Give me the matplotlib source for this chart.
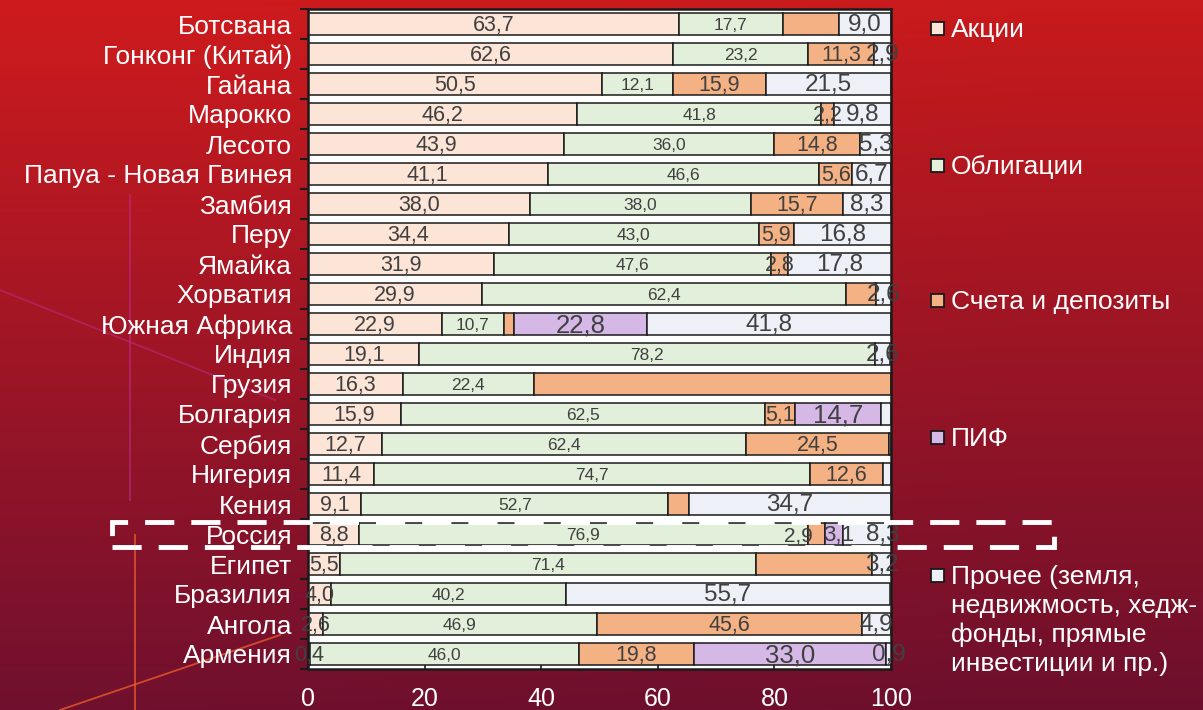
import numpy as np
import matplotlib
matplotlib.use("Agg")
import matplotlib.pyplot as plt
from matplotlib.patches import Rectangle
from matplotlib.lines import Line2D

plt.rcParams['font.family'] = ['Liberation Sans', 'DejaVu Sans']

countries = ["Ботсвана", "Гонконг (Китай)", "Гайана", "Марокко", "Лесото",
             "Папуа - Новая Гвинея", "Замбия", "Перу", "Ямайка", "Хорватия",
             "Южная Африка", "Индия", "Грузия", "Болгария", "Сербия", "Нигерия",
             "Кения", "Россия", "Египет", "Бразилия", "Ангола", "Армения"]

stocks   = [63.7, 62.6, 50.5, 46.2, 43.9, 41.1, 38.0, 34.4, 31.9, 29.9, 22.9,
            19.1, 16.3, 15.9, 12.7, 11.4, 9.1, 8.8, 5.5, 4.0, 2.6, 0.4]
bonds    = [17.7, 23.2, 12.1, 41.8, 36.0, 46.6, 38.0, 43.0, 47.6, 62.4, 10.7,
            78.2, 22.4, 62.5, 62.4, 74.7, 52.7, 76.9, 71.4, 40.2, 46.9, 46.0]
deposits = [9.6, 11.3, 15.9, 2.2, 14.8, 5.6, 15.7, 5.9, 2.8, 5.1, 1.8,
            0.0, 61.3, 5.1, 24.5, 12.6, 3.5, 2.9, 19.9, 0.0, 45.6, 19.8]
funds    = [0.0, 0.0, 0.0, 0.0, 0.0, 0.0, 0.0, 0.0, 0.0, 0.0, 22.8,
            0.0, 0.0, 14.7, 0.0, 0.0, 0.0, 3.1, 0.0, 0.0, 0.0, 33.0]
other    = [9.0, 2.9, 21.5, 9.8, 5.3, 6.7, 8.3, 16.8, 17.8, 2.6, 41.8,
            2.6, 0.0, 1.8, 0.4, 1.3, 34.7, 8.3, 3.2, 55.7, 4.9, 0.9]

series_names = ["Акции", "Облигации", "Счета и депозиты", "ПИФ",
                "Прочее (земля,\nнедвижмость, хедж-\nфонды, прямые\nинвестиции и пр.)"]
series_colors = ["#FCE4D6", "#E2EFDA", "#F4B183", "#D5B8E6", "#EDF0F7"]
label_sizes = [15.5, 12.5, 15.5, 18.5, 17.5]

# (row, series) pairs whose value label is not shown in the original
hidden_labels = {(0, 2), (9, 2), (10, 2), (12, 2), (13, 4), (14, 4), (15, 4),
                 (16, 2), (18, 2)}
# small label nudges (in data units) / sizes where the original labels differ
label_nudge = {(17, 2): -3.0, (17, 3): 0.9, (17, 4): 2.8}
label_size_override = {(17, 2): 15, (17, 3): 16}

xticks = [0, 20, 40, 60, 80, 100]
highlight = "Россия"

W, H = 1203, 710
fig = plt.figure(figsize=(W / 100, H / 100), dpi=100)

# background gradient
bg = fig.add_axes([0, 0, 1, 1], zorder=-10)
top = np.array([206, 27, 29]) / 255
bot = np.array([112, 16, 46]) / 255
t = np.linspace(0, 1, 256)[:, None]
grad = top[None, :] * (1 - t) + bot[None, :] * t
grad = np.repeat(grad[:, None, :], 4, axis=1)
xshade = np.linspace(1.0, 0.97, 4)[None, :, None]
bg.imshow(grad * xshade, aspect='auto', extent=[0, 1, 0, 1], origin='upper')
bg.set_xlim(0, 1)
bg.set_ylim(0, 1)
bg.axis('off')
# faint decorative lines
def px(x, y):
    return x / W, 1 - y / H
for (x0, y0, x1, y1, c, a) in [
        (130, 195, 130, 500, "#C0309A", 0.55),
        (0, 290, 275, 400, "#C0309A", 0.45),
        (135, 535, 135, 710, "#F0602A", 0.75),
        (60, 710, 280, 635, "#F0602A", 0.75)]:
    a0 = px(x0, y0); a1 = px(x1, y1)
    bg.add_line(Line2D([a0[0], a1[0]], [a0[1], a1[1]], color=c, alpha=a, lw=1.3))

ax = fig.add_axes([308 / W, 1 - 669 / H, 583 / W, 660 / H])
ax.set_facecolor("white")

n = len(countries)
y = np.arange(n)
data = [stocks, bonds, deposits, funds, other]
left = np.zeros(n)
for si, (vals, col) in enumerate(zip(data, series_colors)):
    vals = np.array(vals)
    mask = vals > 0
    ax.barh(y[mask], vals[mask], left=left[mask], height=0.72, color=col,
            edgecolor="#1a1a1a", linewidth=1.1, zorder=2)
    for i in range(n):
        if vals[i] > 0 and (i, si) not in hidden_labels:
            ax.text(left[i] + vals[i] / 2 + label_nudge.get((i, si), 0), y[i] + 0.05,
                    f"{vals[i]:.1f}".replace(".", ","),
                    ha="center", va="center",
                    fontsize=label_size_override.get((i, si), label_sizes[si]),
                    color="#404040", zorder=3, clip_on=False)
    left += vals

ax.set_xlim(0, 100)
ax.set_ylim(n - 0.5, -0.5)
ax.set_xticks(xticks)
ax.set_xticklabels([str(v) for v in xticks], color="white", fontsize=18)
ax.tick_params(axis="x", direction="in", length=6, width=1.2, pad=13, color="#1a1a1a")
ax.set_yticks(y)
ax.set_yticklabels(countries, color="white", fontsize=19)
ax.tick_params(axis="y", which="major", length=0, pad=11.5)
ax.set_yticks(np.arange(n + 1) - 0.5, minor=True)
ax.tick_params(axis="y", which="minor", direction="out", length=6, width=1.5, color="#1a1a1a")
for s in ax.spines.values():
    s.set_linewidth(1.8)
    s.set_color("#1a1a1a")

# legend (manual, spread vertically at right)
leg_y = [28, 165, 300, 437, 575]
for name, col, yy in zip(series_names, series_colors, leg_y):
    fig.patches.append(Rectangle((931 / W, 1 - (yy + 7) / H), 13 / W, 13 / H,
                                 transform=fig.transFigure, facecolor=col,
                                 edgecolor="#1a1a1a", linewidth=1.3))
    fig.text(951 / W, 1 - (yy - 10) / H, name, color="white", fontsize=19,
             va="top", ha="left", linespacing=1.25)

# dashed highlight box around the highlighted row
ri = countries.index(highlight)
fig.patches.append(Rectangle((112 / W, 1 - 547 / H), (1054 - 112) / W, 25 / H,
                             transform=fig.transFigure, fill=False,
                             edgecolor="white", linewidth=3.5,
                             linestyle=(0, (6, 3.5)), zorder=20))

fig.savefig("out.png", dpi=100)
